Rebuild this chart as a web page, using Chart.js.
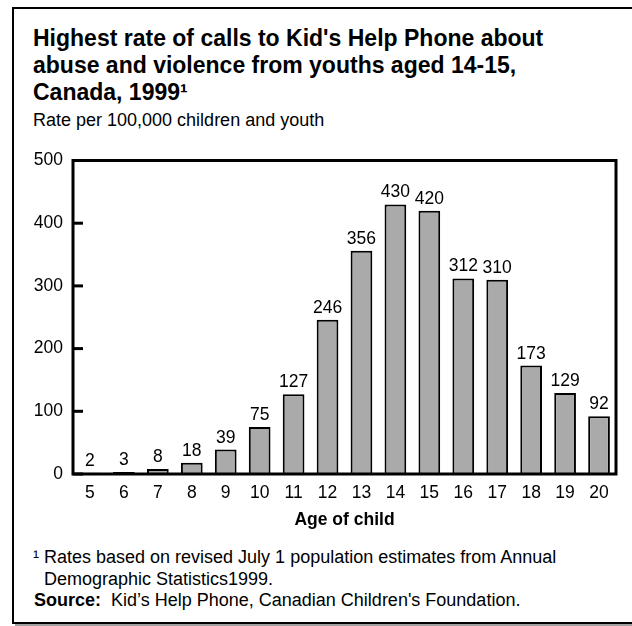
<!DOCTYPE html>
<html><head><meta charset="utf-8">
<script src="https://cdn.jsdelivr.net/npm/chart.js@4"></script>
<style>
html,body{margin:0;padding:0;background:#fff;width:632px;height:626px;overflow:hidden;font-family:"Liberation Sans",Arial,sans-serif;color:#000;}
#frame{position:absolute;left:12px;top:7px;width:640px;height:613px;border:2px solid #000;box-shadow:3px 3px 0 #a0a0a0;}
#title{position:absolute;left:33px;top:24.5px;font-size:23px;font-weight:bold;line-height:27px;white-space:nowrap;}
#sub{position:absolute;left:33px;top:110px;font-size:18px;line-height:21px;white-space:nowrap;}
#note{position:absolute;left:33px;top:546px;font-size:18px;line-height:22px;white-space:nowrap;}
#note .ind{padding-left:11px;}
#src{position:absolute;left:34px;top:589px;font-size:18px;line-height:22px;white-space:nowrap;}
#wrap{position:absolute;left:0;top:140px;width:632px;height:400px;}
</style></head><body>
<div id="frame"></div>
<div id="title">Highest rate of calls to Kid's Help Phone about<br>abuse and violence from youths aged 14-15,<br>Canada, 1999¹</div>
<div id="sub">Rate per 100,000 children and youth</div>
<div id="wrap"><canvas id="c" width="632" height="400"></canvas></div>
<div id="note">¹ Rates based on revised July 1 population estimates from Annual<br><span class="ind">Demographic Statistics1999.</span></div>
<div id="src"><b>Source:</b>&nbsp; Kid’s Help Phone, Canadian Children's Foundation.</div>
<script>
const ages = ['5','6','7','8','9','10','11','12','13','14','15','16','17','18','19','20'];
const rates = [2,3,8,18,39,75,127,246,356,430,420,312,310,173,129,92];
const yTicks = [0,100,200,300,400,500];

const FONT = '"Liberation Sans", Arial, sans-serif';

const boxPlugin = {
  id:'box',
  afterDraw(chart){
    const {ctx, chartArea:a, scales:{y}} = chart;
    ctx.save();
    ctx.strokeStyle='#000';
    ctx.lineWidth=3;
    ctx.strokeRect(a.left, a.top, a.right-a.left, a.bottom-a.top);
    yTicks.forEach(v=>{
      const py = y.getPixelForValue(v);
      ctx.beginPath(); ctx.moveTo(a.left, py); ctx.lineTo(a.left+10, py); ctx.stroke();
    });
    ctx.fillStyle='#000';
    ctx.font='17.5px '+FONT;
    ctx.textAlign='center';
    ctx.textBaseline='alphabetic';
    chart.getDatasetMeta(0).data.forEach((bar,i)=>{
      ctx.fillText(String(rates[i]), bar.x, bar.y-7);
    });
    ctx.restore();
  }
};

new Chart(document.getElementById('c'), {
  type:'bar',
  data:{labels:ages, datasets:[{data:rates, backgroundColor:'#aaaaaa', borderColor:'#000', borderWidth:2, barPercentage:0.64, categoryPercentage:1}]},
  options:{
    responsive:false, animation:false,
    layout:{padding:{left:0,right:16,top:15,bottom:0}},
    plugins:{legend:{display:false}, tooltip:{enabled:false}, title:{display:false}},
    scales:{
      x:{
        grid:{display:false, drawTicks:false},
        border:{display:false},
        ticks:{color:'#000', font:{family:FONT, size:17.5}, padding:9, maxRotation:0, autoSkip:false},
        title:{display:true, text:'Age of child', color:'#000', font:{family:FONT, size:17.5, weight:'bold'}, padding:{top:0,bottom:9}},
        afterFit(s){ s.height = 66; }
      },
      y:{
        min:0, max:500,
        afterBuildTicks(s){ s.ticks = yTicks.map(v=>({value:v})); },
        grid:{display:false, drawTicks:false},
        border:{display:false},
        ticks:{color:'#000', font:{family:FONT, size:17.5}, padding:10},
        afterFit(s){ s.width = 73; }
      }
    }
  },
  plugins:[boxPlugin]
});
</script>
</body></html>
